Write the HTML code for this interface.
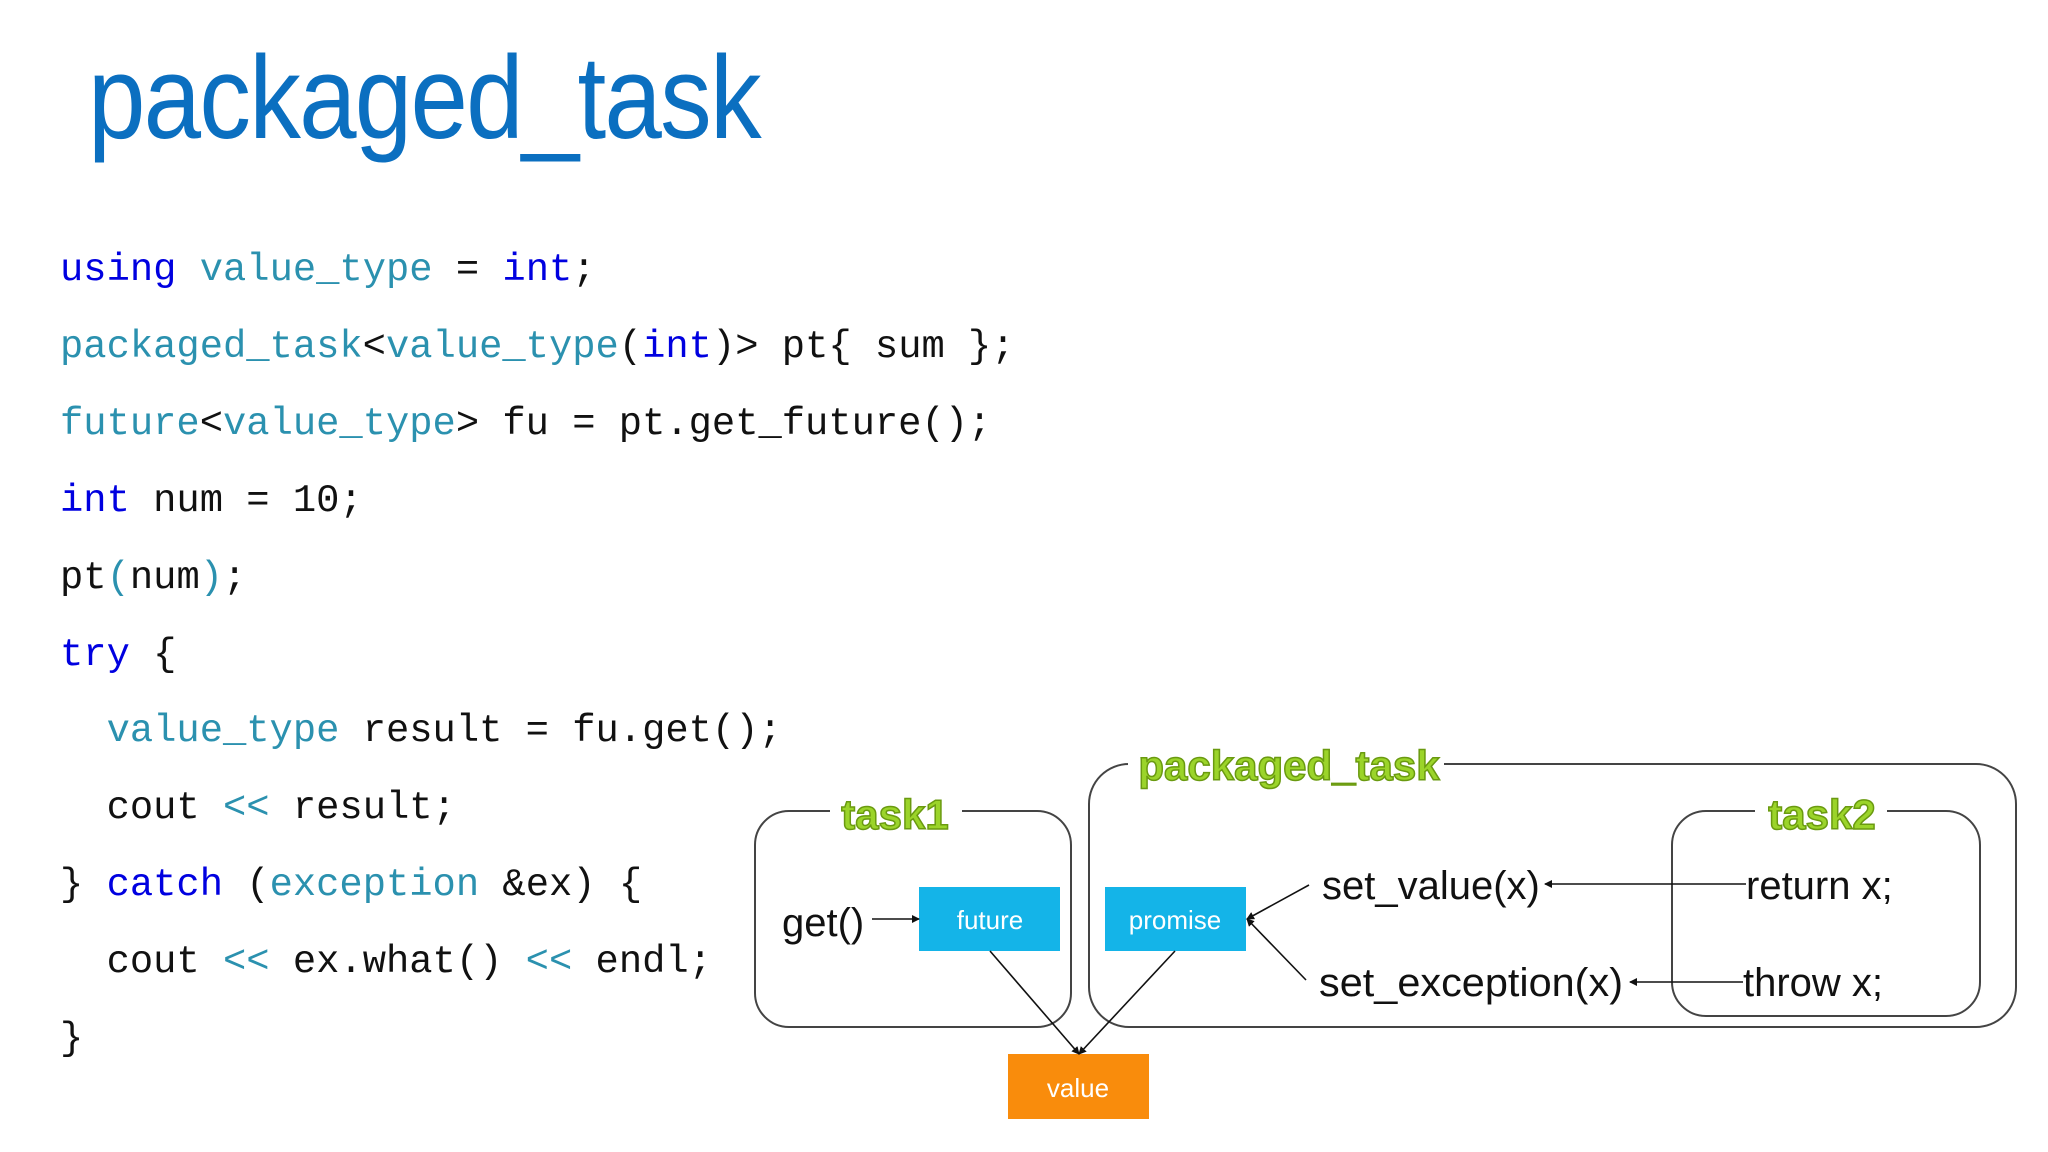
<!DOCTYPE html>
<html><head><meta charset="utf-8"><style>
body{margin:0;width:2048px;height:1152px;background:#fff;overflow:hidden;position:relative;font-family:"Liberation Sans",sans-serif}
.t{position:absolute;left:88px;top:30px;font-size:118px;color:#0b6fc0;font-family:"Liberation Sans",sans-serif;letter-spacing:-2px;transform:scaleX(0.875);transform-origin:0 0}
.c{position:absolute;left:60px;font-family:"Liberation Mono",monospace;font-size:38.8px;color:#111;white-space:pre;line-height:1}
.k{color:#0000e0}.y{color:#2b91af}
</style></head><body>
<div class="t">packaged_task</div>
<div class="c" style="top:251px"><span class="k">using</span> <span class="y">value_type</span> = <span class="k">int</span>;</div>
<div class="c" style="top:328px"><span class="y">packaged_task</span>&lt;<span class="y">value_type</span>(<span class="k">int</span>)&gt; pt{ sum };</div>
<div class="c" style="top:405px"><span class="y">future</span>&lt;<span class="y">value_type</span>&gt; fu = pt.get_future();</div>
<div class="c" style="top:482px"><span class="k">int</span> num = 10;</div>
<div class="c" style="top:559px">pt<span class="y">(</span>num<span class="y">)</span>;</div>
<div class="c" style="top:636px"><span class="k">try</span> {</div>
<div class="c" style="top:712px">  <span class="y">value_type</span> result = fu.get();</div>
<div class="c" style="top:789px">  cout <span class="y">&lt;&lt;</span> result;</div>
<div class="c" style="top:866px">} <span class="k">catch</span> (<span class="y">exception</span> &amp;ex) {</div>
<div class="c" style="top:943px">  cout <span class="y">&lt;&lt;</span> ex.what() <span class="y">&lt;&lt;</span> endl;</div>
<div class="c" style="top:1020px">}</div>
<svg width="2048" height="1152" style="position:absolute;left:0;top:0" font-family="Liberation Sans, sans-serif">
<defs><marker id="a" markerWidth="8" markerHeight="8" refX="7" refY="4" orient="auto" markerUnits="userSpaceOnUse"><path d="M0,0 L8,4 L0,8z" fill="#111"/></marker></defs>
<g fill="none" stroke="#444" stroke-width="2">
<rect x="755" y="811" width="316" height="216" rx="34"/>
<rect x="1089" y="764" width="927" height="263" rx="40"/>
<rect x="1672" y="811" width="308" height="205" rx="34"/>
</g>
<rect x="830" y="800" width="132" height="26" fill="#fff"/>
<rect x="1128" y="750" width="316" height="30" fill="#fff"/>
<rect x="1755" y="800" width="132" height="26" fill="#fff"/>
<g font-weight="bold" font-size="42" fill="#9bd42a" stroke="#6a9a10" stroke-width="1.5" text-anchor="middle">
<text x="895" y="829">task1</text>
<text x="1289" y="780">packaged_task</text>
<text x="1822" y="829">task2</text>
</g>
<rect x="919" y="887" width="141" height="64" fill="#14b4e8"/>
<rect x="1105" y="887" width="141" height="64" fill="#14b4e8"/>
<rect x="1008" y="1054" width="141" height="65" fill="#f98c0c"/>
<g fill="#fff" font-size="26" text-anchor="middle">
<text x="990" y="929">future</text><text x="1175" y="929">promise</text><text x="1078" y="1097">value</text>
</g>
<g font-size="40" fill="#111">
<text x="782" y="936">get()</text>
<text x="1322" y="899">set_value(x)</text>
<text x="1319" y="996" textLength="304" lengthAdjust="spacingAndGlyphs">set_exception(x)</text>
<text x="1746" y="899">return x;</text>
<text x="1743" y="996">throw x;</text>
</g>
<g stroke="#111" stroke-width="1.6" marker-end="url(#a)">
<line x1="872" y1="919" x2="919" y2="919"/>
<line x1="1746" y1="884" x2="1545" y2="884"/>
<line x1="1743" y1="982" x2="1630" y2="982"/>
<line x1="1309" y1="885" x2="1247" y2="919"/>
<line x1="1306" y1="980" x2="1247" y2="919"/>
<line x1="990" y1="951" x2="1079" y2="1054"/>
<line x1="1175" y1="951" x2="1079" y2="1054"/>
</g>
</svg>
</body></html>
